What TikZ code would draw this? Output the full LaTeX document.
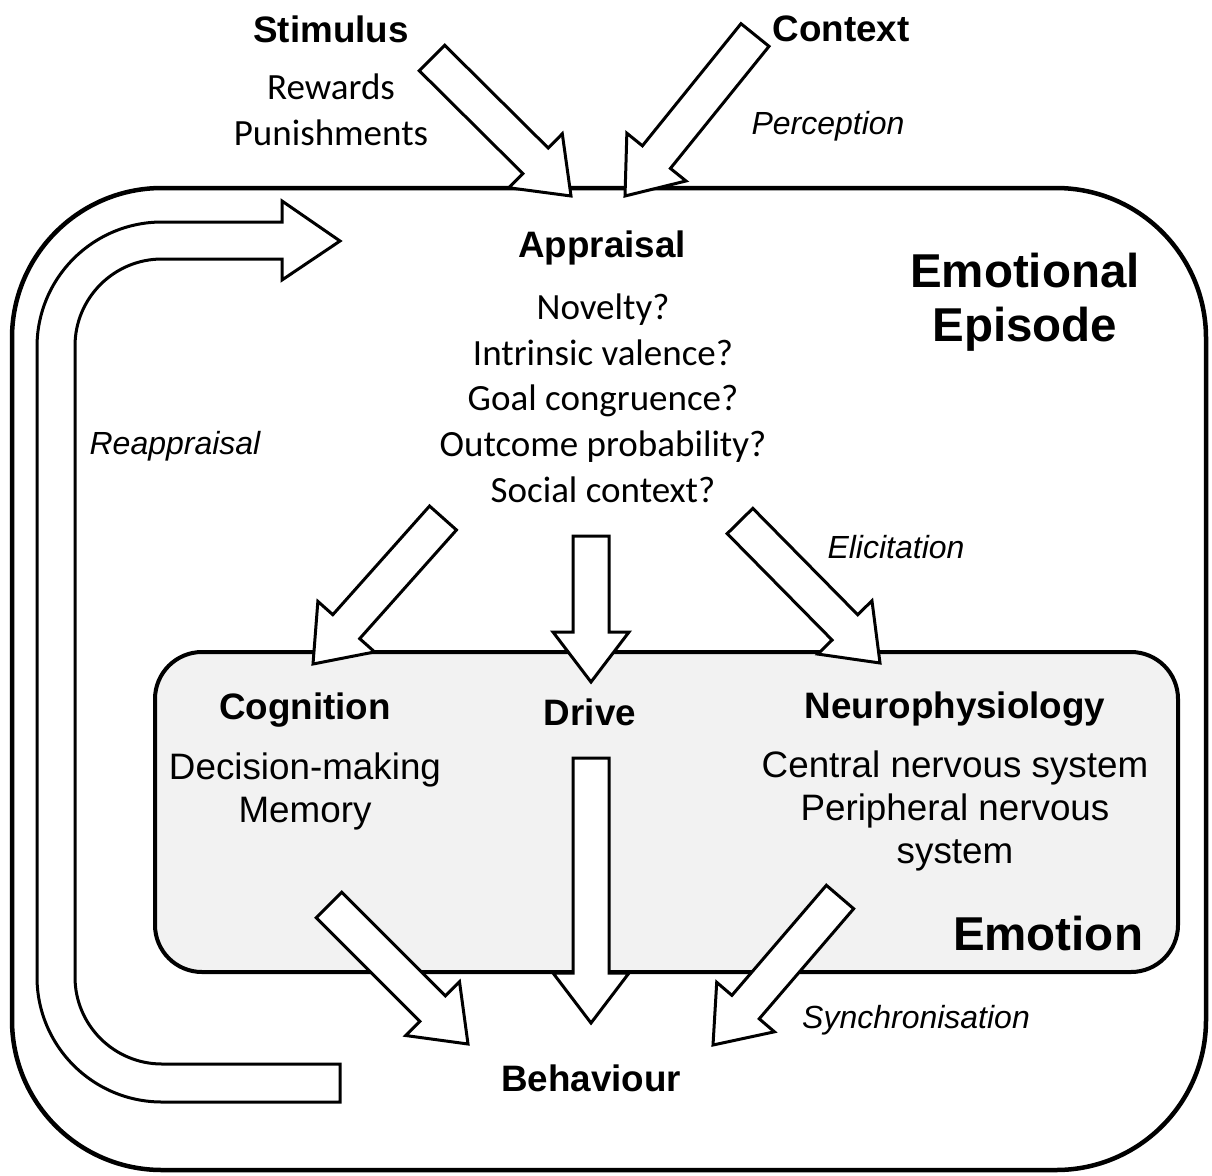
\documentclass[tikz,border=0pt]{standalone}
\usepackage{fontspec}
\setmainfont{Liberation Sans}
\newfontfamily\calfont{Carlito}
\usetikzlibrary{calc}

\definecolor{emofill}{RGB}{242,242,242}

\tikzset{
  blockarrow/.style={draw=black, fill=white, line width=3pt, line join=miter},
  title/.style={inner sep=0pt, align=center, font=\bfseries\fontsize{36.8}{44}\selectfont},
  bigtitle/.style={inner sep=0pt, align=center, font=\bfseries\fontsize{47.5}{54}\selectfont},
  plain/.style={inner sep=0pt, align=center, font=\fontsize{36.8}{43}\selectfont},
  calplain/.style={inner sep=0pt, align=center, font=\calfont\fontsize{37}{45.7}\selectfont},
  process/.style={inner sep=0pt, align=center, font=\itshape\fontsize{32}{38}\selectfont},
}

% fat block arrow from #1 (tail) to #2 (tip)
\newcommand{\blockarrow}[2]{%
  \coordinate (hb) at ($(#2)!50pt!(#1)$);
  \draw[blockarrow] ($(#1)!18pt!90:(#2)$) -- ($(hb)!18pt!90:(#2)$) -- ($(hb)!38pt!90:(#2)$) -- (#2)
    -- ($(hb)!38pt!-90:(#2)$) -- ($(hb)!18pt!-90:(#2)$) -- ($(#1)!18pt!-90:(#2)$) -- cycle;
}

\begin{document}
\begin{tikzpicture}[x=1pt,y=1pt,yscale=-1,xscale=1]
\useasboundingbox (0,0) rectangle (1212,1175);

% Emotional episode frame
\draw[line width=4.5pt, rounded corners=150pt] (12,188) rectangle (1206,1170);

% Reappraisal loop
\draw[line width=3pt, line join=miter, fill=white] (340,1102) -- (162,1102) arc[start angle=90, end angle=180, radius=125]
  -- (37,347) arc[start angle=180, end angle=270, radius=125] -- (282,222) -- (282,201) -- (340,241)
  -- (282,280) -- (282,259) -- (162,259) arc[start angle=270, end angle=180, radius=87]
  -- (75,977) arc[start angle=180, end angle=90, radius=87] -- (340,1064) -- cycle;

% Emotion box
\draw[line width=4pt, fill=emofill, rounded corners=47pt] (155,652) rectangle (1178,972);

% arrow ends
\coordinate (stimtail) at (432,58);
\coordinate (stimtip) at (571,196);
\coordinate (ctxtail) at (755,35);
\coordinate (ctxtip) at (625,196);
\coordinate (cogtail) at (443,518);
\coordinate (cogtip) at (313,664);
\coordinate (drivetail) at (591,536);
\coordinate (drivetip) at (591,682);
\coordinate (neurotail) at (740,521);
\coordinate (neurotip) at (880,663);
\coordinate (cbtail) at (329,905);
\coordinate (cbtip) at (468,1044);
\coordinate (dbtail) at (591,758);
\coordinate (dbtip) at (591,1023);
\coordinate (nbtail) at (840,897);
\coordinate (nbtip) at (713,1045);

\blockarrow{stimtail}{stimtip}
\blockarrow{ctxtail}{ctxtip}
\blockarrow{cogtail}{cogtip}
\blockarrow{drivetail}{drivetip}
\blockarrow{neurotail}{neurotip}
\blockarrow{cbtail}{cbtip}
\blockarrow{dbtail}{dbtip}
\blockarrow{nbtail}{nbtip}

% Text Nodes
\node[title] (stimulus) at (331,29) {Stimulus};
\node[title] (context) at (841,29) {Context};
\node[calplain] (rewards) at (331,110) {Rewards\\Punishments};
\node[process] (perception) at (828,126) {Perception};
\node[title] (appraisal) at (602,248) {Appraisal};
\node[calplain] (checks) at (603,398) {Novelty?\\Intrinsic valence?\\Goal congruence?\\Outcome probability?\\Social context?};
\node[bigtitle] (episode) at (1025,302) {Emotional\\Episode};
\node[process] (reappraisal) at (175,446) {Reappraisal};
\node[process] (elicitation) at (896,547) {Elicitation};
\node[title] (cognition) at (305,710) {Cognition};
\node[title] (drive) at (590,712) {Drive};
\node[title] (neuro) at (955,709) {Neurophysiology};
\node[plain] (cogitems) at (305,791) {Decision-making\\Memory};
\node[plain] (neuroitems) at (955,811) {Central nervous system\\Peripheral nervous\\system};
\node[bigtitle] (emotion) at (1048,934) {Emotion};
\node[process] (sync) at (916,1020) {Synchronisation};
\node[title] (behaviour) at (591,1078) {Behaviour};

\end{tikzpicture}
\end{document}
